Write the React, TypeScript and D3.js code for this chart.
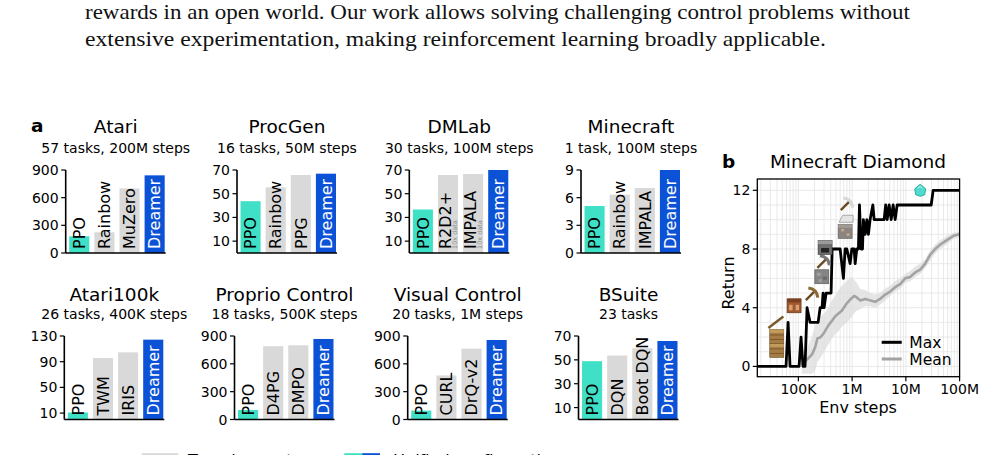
import React from "react";
import * as d3 from "d3";

// ---------- Panel a data ----------
const benchmarks = ["Atari", "ProcGen", "DMLab", "Minecraft", "Atari100k", "Proprio Control", "Visual Control", "BSuite"];
const subtitles = [
  "57 tasks, 200M steps", "16 tasks, 50M steps", "30 tasks, 100M steps", "1 task, 100M steps",
  "26 tasks, 400K steps", "18 tasks, 500K steps", "20 tasks, 1M steps", "23 tasks",
];
const methods = [
  ["PPO", "Rainbow", "MuZero", "Dreamer"],
  ["PPO", "Rainbow", "PPG", "Dreamer"],
  ["PPO", "R2D2+", "IMPALA", "Dreamer"],
  ["PPO", "Rainbow", "IMPALA", "Dreamer"],
  ["PPO", "TWM", "IRIS", "Dreamer"],
  ["PPO", "D4PG", "DMPO", "Dreamer"],
  ["PPO", "CURL", "DrQ-v2", "Dreamer"],
  ["PPO", "DQN", "Boot DQN", "Dreamer"],
];
const methodNotes = [
  ["", "", "", ""], ["", "", "", ""], ["", "10x data", "10x data", ""], ["", "", "", ""],
  ["", "", "", ""], ["", "", "", ""], ["", "", "", ""], ["", "", "", ""],
];
const scores = [
  [181, 225, 700, 842],
  [43.7, 55.4, 65.8, 66.9],
  [36.7, 65.8, 66.6, 70],
  [5.1, 6.33, 7.05, 9.0],
  [10.9, 95.8, 104.6, 124.3],
  [103, 790, 800, 868],
  [96, 475, 764, 857],
  [48.9, 53.6, 59.7, 65.8],
];
const yMaxes = [900, 70, 70, 9, 130, 900, 900, 70];
const yTickValues = [
  [0, 300, 600, 900], [10, 30, 50, 70], [10, 30, 50, 70], [0, 3, 6, 9],
  [10, 50, 90, 130], [0, 300, 600, 900], [0, 300, 600, 900], [10, 30, 50, 70],
];
const legendLabels = ["Tuned experts", "Unified configuration"];

// ---------- Panel b data ----------
const maxSteps = [17.2e3, 59e3, 64.3e3, 70e3, 103e3, 112e3, 122e3, 133e3, 145e3, 165e3, 233e3, 254e3, 276e3, 288e3, 301e3, 328e3, 406e3, 425e3, 504e3, 598e3, 689e3, 741e3, 797e3, 918e3, 987e3, 1.09e6, 1.14e6, 1.22e6, 1.31e6, 1.37e6, 1.47e6, 1.56e6, 1.62e6, 1.75e6, 1.88e6, 2.01e6, 2.16e6, 2.43e6, 2.57e6, 2.88e6, 3.94e6, 4.21e6, 4.49e6, 4.89e6, 5.33e6, 5.8e6, 6.32e6, 6.89e6, 7.51e6, 29.6e6, 32.2e6, 100e6];
const maxReturn = [0, 0, 3, 0, 0, 2, 0, 0, 4, 3, 3, 4, 4, 5, 4, 5, 5, 8, 8, 8, 6, 8, 8, 7, 8, 8, 7, 8, 8, 11, 8, 8, 10, 9, 10, 9, 10, 11, 10, 10, 10, 11, 10, 11, 10, 11, 10, 11, 11, 11, 12, 12];
const meanSteps = [116e3, 143e3, 178e3, 205e3, 226e3, 261e3, 301e3, 362e3, 419e3, 482e3, 556e3, 643e3, 796e3, 946e3, 1.09e6, 1.22e6, 1.41e6, 1.75e6, 2.16e6, 2.68e6, 3.32e6, 4.12e6, 5.1e6, 6.32e6, 7.83e6, 9.71e6, 12.0e6, 14.9e6, 18.5e6, 22.9e6, 28.3e6, 35.1e6, 43.5e6, 57.9e6, 76.9e6, 100e6];
const meanReturn = [0.1, 0.45, 0.8, 1.3, 1.9, 2.0, 2.3, 2.8, 3.1, 3.4, 3.6, 3.8, 4.3, 4.6, 4.8, 4.7, 4.5, 4.6, 4.5, 4.4, 4.6, 4.9, 5.1, 5.4, 5.6, 6.0, 6.1, 6.4, 6.6, 7.0, 7.6, 8.0, 8.3, 8.6, 8.9, 9.0];
const meanLow = [-0.5, -0.5, -0.5, -0.3, 0.3, 0.6, 1.0, 1.5, 1.9, 2.2, 2.4, 2.7, 3.0, 3.3, 3.6, 3.8, 3.9, 4.1, 4.1, 4.0, 4.2, 4.5, 4.8, 5.1, 5.3, 5.7, 5.8, 6.1, 6.3, 6.7, 7.2, 7.7, 8.0, 8.3, 8.7, 8.8];
const meanHigh = [0.5, 1.2, 2.0, 2.8, 3.0, 3.4, 3.6, 4.0, 4.5, 4.8, 5.2, 5.5, 5.8, 6.1, 5.9, 5.7, 5.3, 5.2, 5.0, 4.9, 5.0, 5.3, 5.5, 5.8, 6.0, 6.3, 6.5, 6.8, 7.0, 7.3, 7.9, 8.3, 8.6, 8.9, 9.1, 9.2];
const returnTicks = [0, 4, 8, 12];
const stepTicks = [1e5, 1e6, 1e7, 1e8];
const stepTickLabels = ["100K", "1M", "10M", "100M"];
const iconKinds = ["log", "log", "stick", "table", "woodPick", "cobble", "stonePick", "furnace", "ironOre", "ingot", "ironPick", "diamond"];
const iconSteps = [39.6e3, 39.6e3, 38.1e3, 83.2e3, 178e3, 273e3, 292e3, 314e3, 741e3, 773e3, 796e3, 18.5e6];
const iconReturns = [1.09, 2.04, 3.01, 4.13, 4.93, 6.11, 7.13, 8.1, 9.2, 10.06, 11.06, 12.0];

const bodyLines = [
  "rewards in an open world. Our work allows solving challenging control problems without",
  "extensive experimentation, making reinforcement learning broadly applicable.",
];

// ---------- styles / layout ----------
const TEAL = "#3fe0c6";
const BLUE = "#0c52d6";
const GRAY = "#d9d9d9";
const FONT = "DejaVu Sans";
const panelAxisX = [65.7, 237, 409.3, 581, 64.3, 234.5, 407.7, 578.5];
const rowTop = [170, 336];
const rowBottom = [253, 419.5];
const rowTitleY = [133.3, 300.7];
const rowSubY = [152.7, 319.3];

function BarPanel({ i }: { i: number }) {
  const row = i < 4 ? 0 : 1;
  const ax = panelAxisX[i];
  const top = rowTop[row];
  const bottom = rowBottom[row];
  const y = d3.scaleLinear().domain([0, yMaxes[i]]).range([bottom, top]);
  const x = d3.scaleLinear().domain([-0.54, 3.44]).range([ax, ax + 100]);
  const bw = x(0.4) - x(-0.4);
  const colors = [TEAL, GRAY, GRAY, BLUE];
  return (
    <g>
      <text x={ax + 50} y={rowTitleY[row]} fontSize={18.5} textAnchor="middle">{benchmarks[i]}</text>
      <text x={ax + 50} y={rowSubY[row]} fontSize={14} textAnchor="middle">{subtitles[i]}</text>
      {scores[i].map((v, j) => (
        <rect key={j} x={x(j) - bw / 2} y={y(v)} width={bw} height={y(0) - y(v)} fill={colors[j]} />
      ))}
      {methods[i].map((m, j) => {
        const hasNote = methodNotes[i][j] !== "";
        const cx = x(j) + (hasNote ? -2.6 : 0);
        return (
          <g key={j}>
            <text transform={`translate(${cx},${bottom - 4}) rotate(-90)`} dy="0.36em" fontSize={16}
              fill={j === 3 ? "#fff" : "#000"}>{m}</text>
            {hasNote && (
              <text transform={`translate(${x(j) + 6.4},${bottom - 4}) rotate(-90)`} dy="0.36em" fontSize={6.5}
                fill="#909090">{methodNotes[i][j]}</text>
            )}
          </g>
        );
      })}
      <line x1={ax} x2={ax} y1={top} y2={bottom} stroke="#000" strokeWidth={1.6} />
      <line x1={ax} x2={ax + 100} y1={bottom} y2={bottom} stroke="#000" strokeWidth={1.6} />
      {yTickValues[i].map((t) => (
        <g key={t}>
          <line x1={ax - 4.5} x2={ax} y1={y(t)} y2={y(t)} stroke="#000" strokeWidth={1.2} />
          <text x={ax - 7} y={y(t)} dy="0.36em" fontSize={14} textAnchor="end">{t}</text>
        </g>
      ))}
    </g>
  );
}

function Pick({ head }: { head: string }) {
  return (
    <g>
      <line x1={-6} y1={6} x2={3} y2={-3} stroke="#6b4a22" strokeWidth={2.4} />
      <path d="M-3.5,-6 Q5,-5 6,3.5" stroke={head} strokeWidth={3} fill="none" />
    </g>
  );
}

function Icon({ kind }: { kind: string }) {
  switch (kind) {
    case "log":
      return (
        <g>
          <rect x={-7} y={-7} width={14} height={14} fill="#a57c43" stroke="#6e5026" strokeWidth={0.6} />
          <line x1={-7} x2={7} y1={-1.5} y2={-1.5} stroke="#7d5a2b" strokeWidth={1} />
          <line x1={-7} x2={7} y1={3} y2={3} stroke="#7d5a2b" strokeWidth={1} />
          <rect x={-7} y={-7} width={14} height={3.5} fill="#c29a5a" />
        </g>
      );
    case "stick":
      return <line x1={-7.5} y1={5.8} x2={7.5} y2={-5.8} stroke="#7a5a2a" strokeWidth={2.4} />;
    case "table":
      return (
        <g>
          <rect x={-7} y={-7} width={14} height={14} fill="#a0582c" stroke="#5e3217" strokeWidth={0.6} />
          <rect x={-7} y={-7} width={14} height={3.5} fill="#7a4020" />
          <rect x={-5} y={-1} width={3.5} height={5.5} fill="#d8a070" />
          <rect x={1.5} y={-1} width={3.5} height={5.5} fill="#d8a070" />
        </g>
      );
    case "woodPick":
      return <Pick head="#8a6a35" />;
    case "stonePick":
      return <Pick head="#777" />;
    case "ironPick":
      return <Pick head="#d8d8d8" />;
    case "cobble":
      return (
        <g>
          <rect x={-7} y={-7} width={14} height={14} fill="#858585" stroke="#555" strokeWidth={0.6} />
          <rect x={-5} y={-4} width={4} height={3} fill="#a0a0a0" />
          <rect x={1} y={0} width={4} height={3} fill="#6a6a6a" />
          <rect x={-3} y={2.5} width={3} height={3} fill="#a0a0a0" />
        </g>
      );
    case "furnace":
      return (
        <g>
          <rect x={-7} y={-7} width={14} height={14} fill="#6f6f6f" stroke="#3a3a3a" strokeWidth={0.6} />
          <rect x={-7} y={-7} width={14} height={3.5} fill="#9a9a9a" />
          <rect x={-4} y={0.5} width={8} height={4.5} fill="#222" />
        </g>
      );
    case "ironOre":
      return (
        <g>
          <rect x={-7} y={-7} width={14} height={14} fill="#8a8580" stroke="#555" strokeWidth={0.6} />
          <rect x={-4} y={-2.5} width={3} height={2.5} fill="#c8a88a" />
          <rect x={1.5} y={2} width={3} height={2.5} fill="#c8a88a" />
          <rect x={-7} y={-7} width={14} height={3.5} fill="#a09a94" />
        </g>
      );
    case "ingot":
      return <path d="M-7,3.5 L-3.5,-3.5 L7,-3.5 L7,3.5 Z" fill="#e4e4e4" stroke="#999" strokeWidth={0.8} />;
    case "diamond":
      return (
        <g>
          <path d="M0,-6 L5.5,-1.5 L4.5,4.5 L0,6 L-4.5,4.5 L-5.5,-1.5 Z" fill="#4fdccf" stroke="#1a9a92" strokeWidth={0.8} />
          <path d="M-2.5,-2 L0,-4 L2,-2" stroke="#c8fff8" strokeWidth={1} fill="none" />
        </g>
      );
    default:
      return null;
  }
}

function MinecraftPanel() {
  const left = 757.3, right = 959.6, top = 179, bottom = 376.7;
  const x = d3.scaleLog().domain([17.2e3, 1e8]).range([left, right]);
  const y = d3.scaleLinear().domain([-0.7, 12.77]).range([bottom, top]);
  const vgrid: number[] = [];
  for (let k = 4; k <= 8; k++) {
    for (let m = 1; m <= 9; m++) {
      const v = m * Math.pow(10, k);
      if (v >= 17.2e3 && v <= 1e8) vgrid.push(v);
    }
  }
  const hgrid = d3.range(0, 13);
  const band = d3.area<number>()
    .x((_, k) => x(meanSteps[k]))
    .y0((_, k) => y(meanLow[k]))
    .y1((_, k) => y(meanHigh[k]));
  const meanLine = d3.line<number>().x((_, k) => x(meanSteps[k])).y((d) => y(d));
  const maxLine = d3.line<number>().x((_, k) => x(maxSteps[k])).y((d) => y(d));
  return (
    <g>
      <text x={722} y={168} fontSize={18.5} fontWeight="bold">b</text>
      <text x={858} y={168.3} fontSize={18.5} textAnchor="middle">Minecraft Diamond</text>
      <defs>
        <clipPath id="mcclip"><rect x={left} y={top} width={right - left} height={bottom - top} /></clipPath>
      </defs>
      <g clipPath="url(#mcclip)">
        {vgrid.map((v) => (
          <line key={v} x1={x(v)} x2={x(v)} y1={top} y2={bottom} stroke="#e6e6e6" strokeWidth={0.9} />
        ))}
        {hgrid.map((v) => (
          <line key={v} x1={left} x2={right} y1={y(v)} y2={y(v)} stroke="#e6e6e6" strokeWidth={0.9} />
        ))}
        <path d={band(meanReturn) || ""} fill="#dcdcdc" opacity={0.75} />
        <path d={meanLine(meanReturn) || ""} fill="none" stroke="#a3a3a3" strokeWidth={2.6} strokeLinejoin="round" />
        <path d={maxLine(maxReturn) || ""} fill="none" stroke="#000" strokeWidth={2.8} strokeLinejoin="round" />
        {iconKinds.map((k, j) => (
          <g key={j} transform={`translate(${x(iconSteps[j])},${y(iconReturns[j])})`}>
            <Icon kind={k} />
          </g>
        ))}
      </g>
      <rect x={left} y={top} width={right - left} height={bottom - top} fill="none" stroke="#000" strokeWidth={1.3} />
      {returnTicks.map((t) => (
        <g key={t}>
          <line x1={left - 4.5} x2={left} y1={y(t)} y2={y(t)} stroke="#000" strokeWidth={1.2} />
          <text x={left - 7} y={y(t)} dy="0.36em" fontSize={14} textAnchor="end">{t}</text>
        </g>
      ))}
      {stepTicks.map((t, k) => (
        <g key={t}>
          <line x1={x(t)} x2={x(t)} y1={bottom} y2={bottom + 4.5} stroke="#000" strokeWidth={1.2} />
          <text x={x(t)} y={393.5} fontSize={14} textAnchor="middle">{stepTickLabels[k]}</text>
        </g>
      ))}
      <text x={858} y={413} fontSize={16} textAnchor="middle">Env steps</text>
      <text transform={`translate(734,283) rotate(-90)`} fontSize={16} textAnchor="middle">Return</text>
      <line x1={881.7} x2={901.7} y1={342.3} y2={342.3} stroke="#000" strokeWidth={3} />
      <text x={909.3} y={347.8} fontSize={15.5}>Max</text>
      <line x1={881.7} x2={901.7} y1={359} y2={359} stroke="#a3a3a3" strokeWidth={3} />
      <text x={909.3} y={364.5} fontSize={15.5}>Mean</text>
    </g>
  );
}

export default function App() {
  return (
    <svg width={1000} height={455} style={{ position: "absolute", left: 0, top: 0, background: "#fff" }}
      fontFamily={FONT}>
      <rect width={1000} height={455} fill="#fff" />
      <text x={85} y={18.5} fontFamily="Liberation Serif" fontSize={22} fill="#111" textLength={825}
        lengthAdjust="spacingAndGlyphs">{bodyLines[0]}</text>
      <text x={85} y={45.5} fontFamily="Liberation Serif" fontSize={22} fill="#111" textLength={741}
        lengthAdjust="spacingAndGlyphs">{bodyLines[1]}</text>
      <text x={31} y={131.7} fontSize={18.5} fontWeight="bold">a</text>
      {benchmarks.map((_, i) => <BarPanel key={i} i={i} />)}
      <MinecraftPanel />
      <rect x={141.7} y={453.2} width={36.6} height={12} fill={GRAY} />
      <text x={188} y={466} fontSize={16}>{legendLabels[0]}</text>
      <rect x={344.3} y={453.2} width={17.9} height={12} fill={TEAL} />
      <rect x={362.2} y={453.2} width={17.8} height={12} fill={BLUE} />
      <text x={393.3} y={466} fontSize={16}>{legendLabels[1]}</text>
    </svg>
  );
}
